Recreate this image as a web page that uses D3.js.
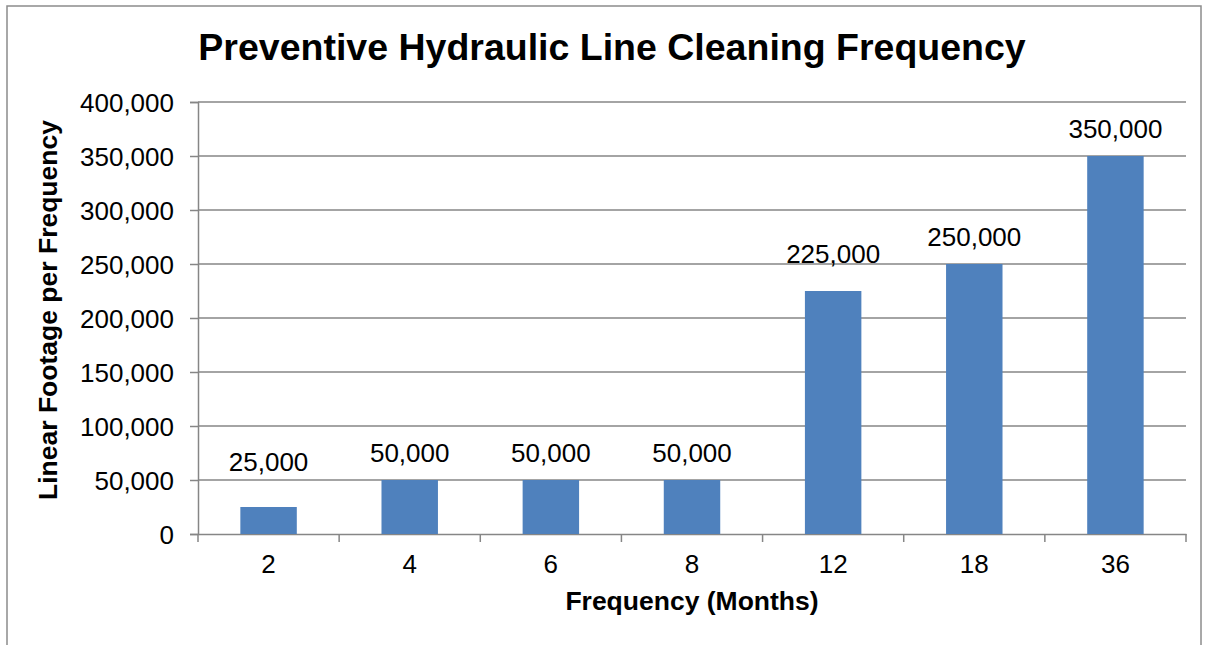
<!DOCTYPE html>
<html>
<head>
<meta charset="utf-8">
<script src="https://cdn.jsdelivr.net/npm/d3@7"></script>
<style>
  body { margin: 0; background: #fff; }
  svg text { font-family: "Liberation Sans", Arial, sans-serif; fill: #000; }
</style>
</head>
<body>
<div id="chart"></div>
<script>
// chart data
var months = ["2", "4", "6", "8", "12", "18", "36"];
var footage = [25000, 50000, 50000, 50000, 225000, 250000, 350000];
var yTicks = [0, 50000, 100000, 150000, 200000, 250000, 300000, 350000, 400000];

// a couple of the data labels sit higher than the rest in the original
var labelLift = {"2": 36, "12": 28};

var width = 1205, height = 645;
var margin = {top: 102, right: 19, bottom: 111, left: 198};
var plotW = width - margin.left - margin.right,
    plotH = height - margin.top - margin.bottom;

var svg = d3.select("#chart").append("svg")
    .attr("width", width)
    .attr("height", height);

// outer frame
svg.append("rect")
    .attr("x", 7).attr("y", 6)
    .attr("width", 1194).attr("height", 660)
    .attr("fill", "none")
    .attr("stroke", "#8c8c8c")
    .attr("stroke-width", 1.5);

var g = svg.append("g")
    .attr("transform", "translate(" + margin.left + "," + margin.top + ")");

var x = d3.scaleBand().domain(months).range([0, plotW]).padding(0);
var y = d3.scaleLinear().domain([0, 400000]).range([plotH, 0]);

// horizontal gridlines
g.selectAll("line.grid")
    .data(yTicks.slice(1))
    .enter().append("line")
    .attr("class", "grid")
    .attr("x1", 0).attr("x2", plotW)
    .attr("y1", function(d) { return y(d); })
    .attr("y2", function(d) { return y(d); })
    .attr("stroke", "#868686")
    .attr("stroke-width", 1.5);

// y axis
var yAxis = g.append("g")
    .call(d3.axisLeft(y).tickValues(yTicks).tickSize(8).tickPadding(16)
        .tickFormat(d3.format(",")));
yAxis.selectAll("text").style("font-size", "26px").attr("dy", "0.35em");

// x axis, ticks on the band edges
var xAxis = g.append("g")
    .attr("transform", "translate(0," + plotH + ")")
    .call(d3.axisBottom(x).tickSize(0).tickPadding(21));
xAxis.selectAll("text").style("font-size", "26px");

var edges = months.map(function(m) { return x(m); }).concat([plotW]);
g.selectAll("line.xtick")
    .data(edges)
    .enter().append("line")
    .attr("class", "xtick")
    .attr("x1", function(d) { return d; })
    .attr("x2", function(d) { return d; })
    .attr("y1", plotH).attr("y2", plotH + 8)
    .attr("stroke", "#868686")
    .attr("stroke-width", 1.5);

g.selectAll(".domain").attr("stroke", "#868686").attr("stroke-width", 1.5);
g.selectAll(".tick line").attr("stroke", "#868686").attr("stroke-width", 1.5);

// bars
var barW = x.bandwidth() * 0.4;
g.selectAll("rect.bar")
    .data(months)
    .enter().append("rect")
    .attr("class", "bar")
    .attr("x", function(d) { return x(d) + (x.bandwidth() - barW) / 2; })
    .attr("y", function(d, i) { return y(footage[i]); })
    .attr("width", barW)
    .attr("height", function(d, i) { return plotH - y(footage[i]); })
    .attr("fill", "#4f81bd");

// data labels
g.selectAll("text.val")
    .data(months)
    .enter().append("text")
    .attr("class", "val")
    .attr("x", function(d) { return x(d) + x.bandwidth() / 2; })
    .attr("y", function(d, i) { return y(footage[i]) - (labelLift[d] || 18); })
    .attr("text-anchor", "middle")
    .style("font-size", "26px")
    .text(function(d, i) { return d3.format(",")(footage[i]); });

// titles
svg.append("text")
    .attr("x", 612).attr("y", 60)
    .attr("text-anchor", "middle")
    .style("font-size", "37.5px")
    .style("font-weight", "bold")
    .text("Preventive Hydraulic Line Cleaning Frequency");

svg.append("text")
    .attr("x", margin.left + plotW / 2).attr("y", 610)
    .attr("text-anchor", "middle")
    .style("font-size", "26.5px")
    .style("font-weight", "bold")
    .text("Frequency (Months)");

svg.append("text")
    .attr("transform", "translate(57,310) rotate(-90)")
    .attr("text-anchor", "middle")
    .style("font-size", "26.5px")
    .style("font-weight", "bold")
    .text("Linear Footage per Frequency");
</script>
</body>
</html>
